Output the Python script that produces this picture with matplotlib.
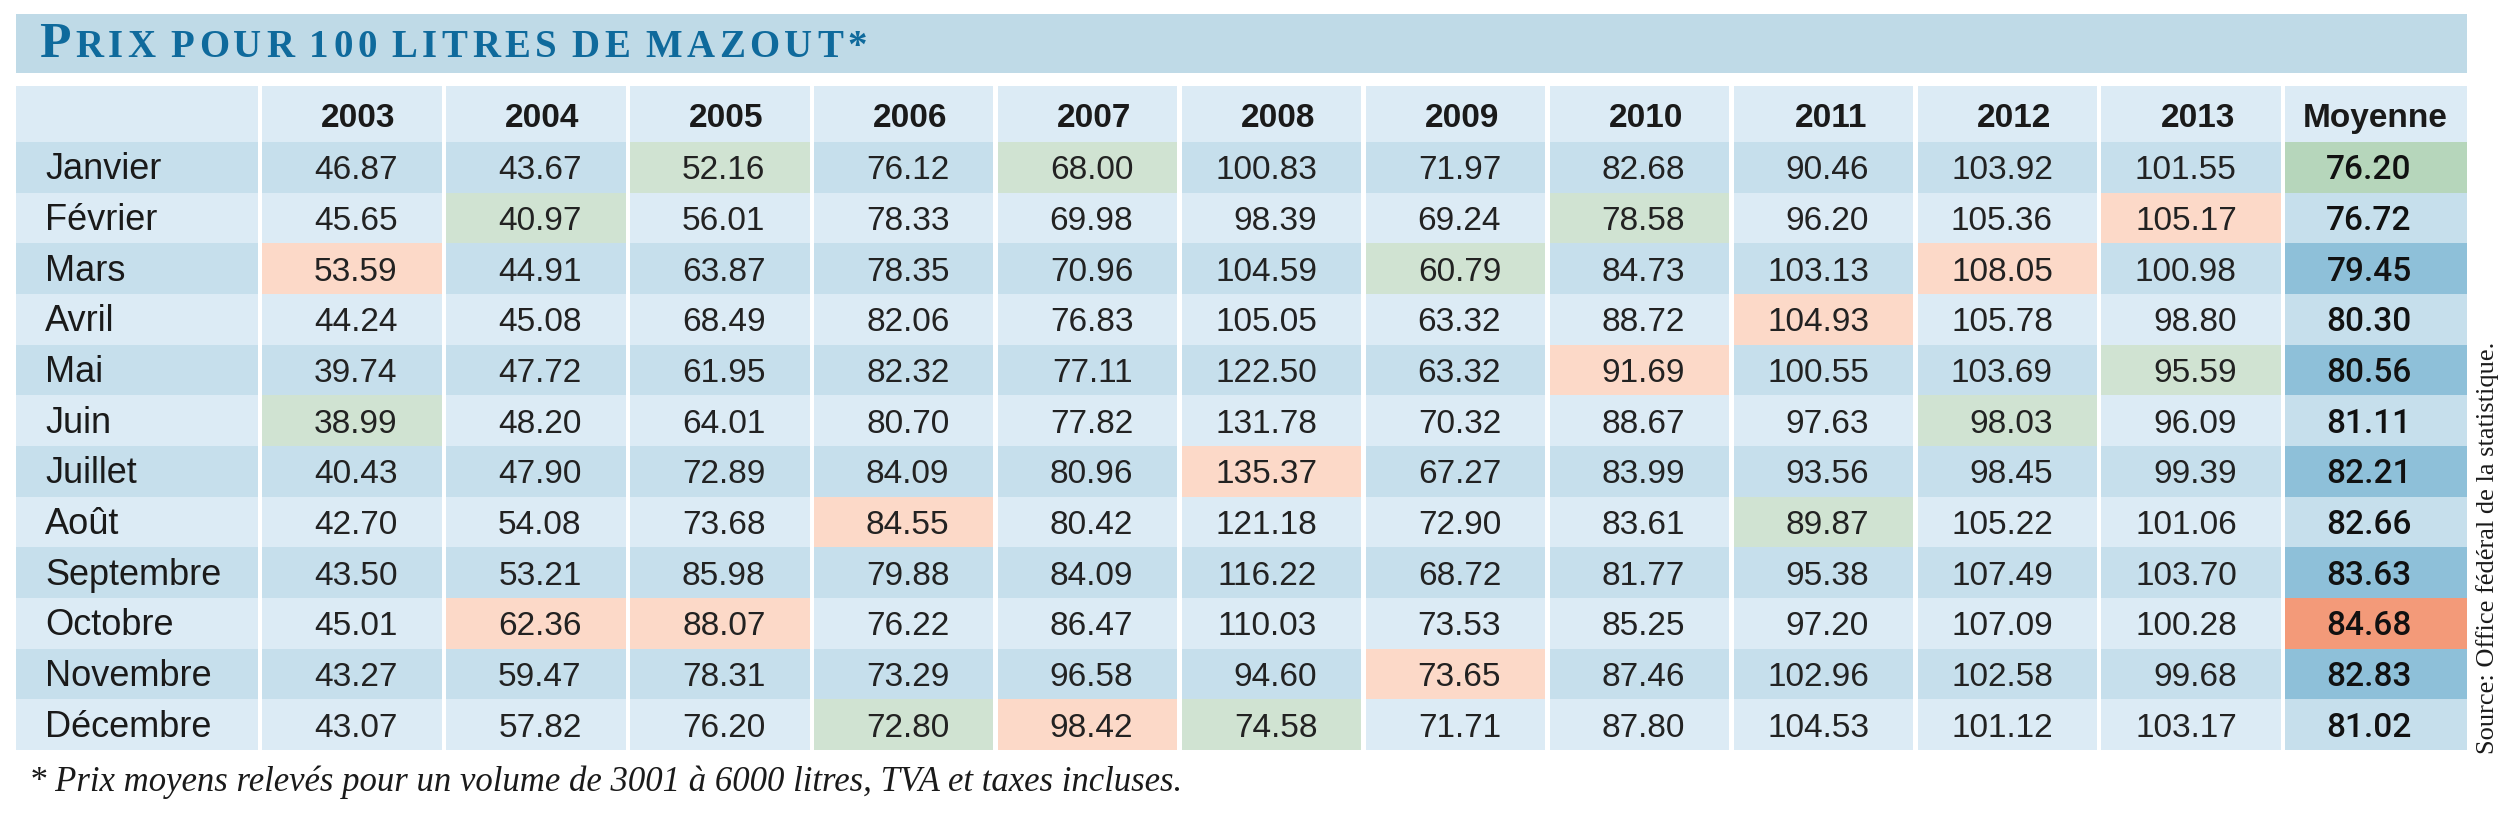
import matplotlib
matplotlib.use("Agg")
import matplotlib.pyplot as plt
from matplotlib.patches import Rectangle
import numpy as np

years = ["2003", "2004", "2005", "2006", "2007", "2008",
         "2009", "2010", "2011", "2012", "2013"]
months = ["Janvier", "Février", "Mars", "Avril", "Mai", "Juin", "Juillet",
          "Août", "Septembre", "Octobre", "Novembre", "Décembre"]

# one list per year, January -> December
prix = {
    "2003": [46.87, 45.65, 53.59, 44.24, 39.74, 38.99, 40.43, 42.70, 43.50, 45.01, 43.27, 43.07],
    "2004": [43.67, 40.97, 44.91, 45.08, 47.72, 48.20, 47.90, 54.08, 53.21, 62.36, 59.47, 57.82],
    "2005": [52.16, 56.01, 63.87, 68.49, 61.95, 64.01, 72.89, 73.68, 85.98, 88.07, 78.31, 76.20],
    "2006": [76.12, 78.33, 78.35, 82.06, 82.32, 80.70, 84.09, 84.55, 79.88, 76.22, 73.29, 72.80],
    "2007": [68.00, 69.98, 70.96, 76.83, 77.11, 77.82, 80.96, 80.42, 84.09, 86.47, 96.58, 98.42],
    "2008": [100.83, 98.39, 104.59, 105.05, 122.50, 131.78, 135.37, 121.18, 116.22, 110.03, 94.60, 74.58],
    "2009": [71.97, 69.24, 60.79, 63.32, 63.32, 70.32, 67.27, 72.90, 68.72, 73.53, 73.65, 71.71],
    "2010": [82.68, 78.58, 84.73, 88.72, 91.69, 88.67, 83.99, 83.61, 81.77, 85.25, 87.46, 87.80],
    "2011": [90.46, 96.20, 103.13, 104.93, 100.55, 97.63, 93.56, 89.87, 95.38, 97.20, 102.96, 104.53],
    "2012": [103.92, 105.36, 108.05, 105.78, 103.69, 98.03, 98.45, 105.22, 107.49, 107.09, 102.58, 101.12],
    "2013": [101.55, 105.17, 100.98, 98.80, 95.59, 96.09, 99.39, 101.06, 103.70, 100.28, 99.68, 103.17],
}
moyenne = [76.20, 76.72, 79.45, 80.30, 80.56, 81.11, 82.21, 82.66, 83.63, 84.68, 82.83, 81.02]

title_first = "P"
title_rest = "RIX POUR 100 LITRES DE MAZOUT*"
footnote = "* Prix moyens relevés pour un volume de 3001 à 6000 litres, TVA et taxes incluses."
source = "Source: Office fédéral de la statistique."

# colours
LIGHT = "#dcebf5"
MID = "#c6dfec"
BAND = "#bfdae7"
GREEN = "#d0e3d2"
PINK = "#fcd9c8"
AVG_DARK = "#8ec0d9"
AVG_GREEN = "#b6d6bb"
AVG_ORANGE = "#f39a79"
TITLE_BLUE = "#0f6a9c"

W, H = 2520, 817
fig = plt.figure(figsize=(W / 100, H / 100), dpi=100)
ax = fig.add_axes([0, 0, 1, 1])
ax.set_xlim(0, W)
ax.set_ylim(H, 0)
ax.axis("off")

# layout (pixels)
left, label_right, right = 16, 260, 2467
col_w = (right - label_right) / 12
edges = [left] + [label_right + k * col_w for k in range(13)]
head_top, head_bot, table_bot = 86, 142, 750
row_h = (table_bot - head_bot) / 12
gap = 4.5

# title band, small caps drawn letter by letter with a little tracking
ax.add_patch(Rectangle((left, 14), right - left, 59, color=BAND, lw=0))
title_kw = dict(fontfamily="Liberation Serif", fontweight="bold", color=TITLE_BLUE,
                va="baseline")
title_y, title_x0, title_x1 = 57, 39, 867
big, small = 37, 28
renderer = fig.canvas.get_renderer()


def word_width(s, size):
    t = ax.text(0, 0, s, fontsize=size, **title_kw)
    w = t.get_window_extent(renderer).width
    t.remove()
    return w


space_w = word_width("A A", small) - word_width("AA", small)
letters = [(title_first, big)] + [(ch, small) for ch in title_rest]
natural = sum(space_w if ch == " " else word_width(ch, s) for ch, s in letters)
tracking = max(0.0, (title_x1 - title_x0 - natural) / (len(letters) - 1))
x = title_x0
for ch, s in letters:
    if ch == " ":
        x += space_w + tracking
        continue
    t = ax.text(x, title_y, ch, fontsize=s, **title_kw)
    x = x + t.get_window_extent(renderer).width + tracking


def cell(j, y0, y1, colour):
    x0 = edges[j] + (0 if j == 0 else gap / 2)
    x1 = edges[j + 1] - (0 if j == 12 else gap / 2)
    ax.add_patch(Rectangle((x0, y0), x1 - x0, y1 - y0, color=colour, lw=0))


# header row
for j in range(13):
    cell(j, head_top, head_bot, LIGHT)
hy = (head_top + head_bot) / 2 + 13
for k, yr in enumerate(years):
    ax.text(edges[k + 2] - gap / 2 - 46, hy, yr, ha="right", va="baseline",
            fontfamily="Liberation Sans", fontweight="bold", fontsize=24, color="#1a1a1a")
ax.text((edges[12] + edges[13]) / 2, hy, "Moyenne", ha="center", va="baseline",
        fontfamily="Liberation Sans", fontweight="bold", fontsize=24, color="#1a1a1a")

avg_min, avg_max = int(np.argmin(moyenne)), int(np.argmax(moyenne))

for i, m in enumerate(months):
    y0 = head_bot + i * row_h
    y1 = y0 + row_h
    base = MID if i % 2 == 0 else LIGHT
    by = (y0 + y1) / 2 + 12
    cell(0, y0, y1, base)
    ax.text(45, by, m, ha="left", va="baseline", fontfamily="Liberation Sans",
            fontsize=26, color="#1a1a1a")
    for k, yr in enumerate(years):
        vals = prix[yr]
        colour = base
        if i == int(np.argmin(vals)):
            colour = GREEN
        elif i == int(np.argmax(vals)):
            colour = PINK
        cell(k + 1, y0, y1, colour)
        ax.text(edges[k + 2] - gap / 2 - 44, by, f"{vals[i]:.2f}", ha="right",
                va="baseline", fontfamily="Liberation Sans", fontsize=24, color="#222222")
    colour = AVG_DARK if i % 2 == 0 else MID
    if i == avg_min:
        colour = AVG_GREEN
    elif i == avg_max:
        colour = AVG_ORANGE
    cell(12, y0, y1, colour)
    ax.text((edges[12] + edges[13]) / 2 - 6, by, f"{moyenne[i]:.2f}", ha="center",
            va="baseline", fontfamily="Roboto", fontweight="medium", fontsize=24,
            color="#111111")

ax.text(29, 791, footnote, ha="left", va="baseline", fontfamily="Liberation Serif",
        fontstyle="italic", fontsize=25, color="#1a1a1a")
ax.text(2488, 548, source, ha="center", va="center", rotation=90,
        fontfamily="Liberation Serif", fontsize=19, color="#1a1a1a")

fig.savefig("out.png", dpi=100)
